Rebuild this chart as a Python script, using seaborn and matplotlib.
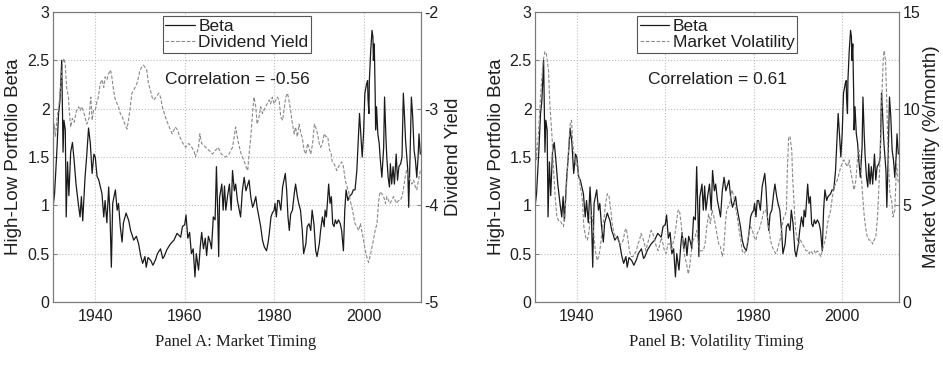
"""plot.py - High-Low portfolio beta vs. market timing / volatility timing signals.

Two panels, each with beta on the left axis and a second signal on a twin axis.
"""

import matplotlib

matplotlib.use("Agg")
import matplotlib.pyplot as plt
import seaborn as sns

# ---------------------------------------------------------------- data
beta_years = [
    1930.6, 1930.9, 1931.4, 1931.8, 1932.1, 1932.5, 1932.8, 1933.0, 1933.3, 1933.5,
    1933.8, 1934.1, 1934.5, 1934.9, 1935.3, 1935.7, 1936.2, 1936.6, 1936.9, 1937.2,
    1937.7, 1938.1, 1938.5, 1938.9, 1939.3, 1939.7, 1940.0, 1940.4, 1940.8, 1941.1,
    1941.5, 1941.9, 1942.2, 1942.6, 1943.0, 1943.3, 1943.6, 1943.9, 1944.5, 1944.9,
    1945.2, 1945.6, 1946.0, 1946.3, 1946.9, 1947.5, 1947.9, 1948.2, 1948.6, 1949.2,
    1949.7, 1950.2, 1950.6, 1951.1, 1951.4, 1951.8, 1952.4, 1952.9, 1953.5, 1953.9,
    1954.6, 1955.1, 1955.4, 1956.0, 1956.8, 1957.6, 1958.3, 1959.1, 1959.5, 1960.0,
    1960.3, 1960.7, 1961.1, 1961.5, 1961.9, 1962.3, 1962.6, 1963.1, 1963.5, 1963.8,
    1964.2, 1964.6, 1964.9, 1965.3, 1965.7, 1966.0, 1966.4, 1966.8, 1967.1, 1967.4,
    1967.6, 1967.8, 1968.3, 1968.6, 1968.9, 1969.2, 1969.6, 1970.0, 1970.4, 1970.7,
    1971.1, 1971.4, 1971.8, 1972.2, 1972.5, 1972.9, 1973.3, 1973.7, 1974.4, 1974.8,
    1975.2, 1975.5, 1975.9, 1976.2, 1976.6, 1977.0, 1977.4, 1977.8, 1978.3, 1978.6,
    1978.9, 1979.3, 1979.6, 1980.0, 1980.2, 1980.5, 1980.8, 1981.1, 1981.5, 1981.9,
    1982.2, 1982.5, 1982.8, 1983.1, 1983.4, 1983.7, 1984.1, 1984.5, 1984.8, 1985.2,
    1985.5, 1985.9, 1986.3, 1986.6, 1987.1, 1987.4, 1987.8, 1988.2, 1988.5, 1988.9,
    1989.3, 1989.6, 1990.1, 1990.4, 1990.8, 1991.2, 1991.4, 1991.7, 1992.2, 1992.5,
    1992.8, 1993.1, 1993.4, 1993.7, 1994.0, 1994.4, 1994.8, 1995.1, 1995.5, 1995.8,
    1996.1, 1996.5, 1996.8, 1997.4, 1997.7, 1998.1, 1998.5, 1998.9, 1999.1, 1999.5,
    1999.7, 2000.0, 2000.3, 2000.7, 2000.9, 2001.0, 2001.2, 2001.3, 2001.6, 2001.9,
    2002.1, 2002.2, 2002.4, 2002.6, 2002.7, 2002.9, 2003.2, 2003.5, 2003.7, 2004.1,
    2004.5, 2004.7, 2005.0, 2005.2, 2005.5, 2005.8, 2006.0, 2006.3, 2006.6, 2006.9,
    2007.3, 2007.6, 2007.9, 2008.3, 2008.6, 2008.9, 2009.1, 2009.4, 2009.9, 2010.1,
    2010.4, 2010.7, 2011.0, 2011.3, 2011.6, 2011.9, 2012.2, 2012.4, 2012.7,
]
beta = [
    1.00, 1.12, 1.55, 1.95, 2.08, 2.50, 1.55, 1.88, 1.78, 0.88,
    1.45, 1.10, 1.55, 1.65, 1.45, 1.22, 1.02, 0.88, 1.09, 0.84,
    1.28, 1.52, 1.80, 1.64, 1.33, 1.53, 1.50, 1.30, 1.26, 1.20,
    1.12, 0.88, 1.05, 0.82, 1.19, 0.90, 0.36, 1.02, 1.16, 0.95,
    1.02, 0.78, 0.62, 0.82, 0.92, 0.84, 0.74, 0.70, 0.64, 0.68,
    0.60, 0.47, 0.40, 0.47, 0.36, 0.46, 0.43, 0.38, 0.44, 0.50,
    0.55, 0.45, 0.47, 0.54, 0.60, 0.64, 0.71, 0.67, 0.78, 0.80,
    0.90, 0.66, 0.72, 0.50, 0.55, 0.26, 0.50, 0.33, 0.58, 0.72,
    0.55, 0.66, 0.48, 0.68, 0.62, 0.55, 0.88, 0.85, 1.40, 0.90,
    0.47, 1.08, 1.22, 0.95, 1.20, 0.95, 1.10, 1.22, 0.95, 1.36,
    1.15, 1.22, 1.05, 0.95, 0.88, 1.15, 1.29, 1.15, 1.26, 1.08,
    0.98, 1.02, 1.09, 0.98, 0.88, 0.78, 0.64, 0.57, 0.53, 0.60,
    0.70, 0.88, 0.92, 0.95, 1.02, 0.88, 1.05, 1.05, 0.95, 1.19,
    1.26, 1.33, 1.16, 0.88, 0.74, 0.91, 0.95, 1.12, 1.22, 1.09,
    1.02, 0.95, 0.74, 0.50, 0.60, 0.78, 0.81, 0.74, 0.95, 0.81,
    0.53, 0.47, 0.60, 0.74, 0.88, 0.78, 0.95, 0.88, 1.22, 1.02,
    1.09, 0.81, 0.78, 0.85, 0.81, 0.85, 0.81, 0.74, 0.53, 0.95,
    1.16, 1.05, 1.09, 1.12, 1.16, 1.16, 1.36, 1.74, 1.95, 1.64,
    1.50, 1.74, 2.16, 2.26, 2.29, 2.10, 1.95, 2.29, 2.60, 2.81,
    2.74, 2.50, 2.67, 2.16, 1.78, 2.02, 1.74, 1.64, 1.50, 1.29,
    1.60, 2.12, 1.71, 1.50, 1.29, 1.19, 1.43, 1.22, 1.40, 1.22,
    1.53, 1.26, 1.40, 1.43, 1.50, 2.16, 1.98, 1.67, 1.36, 0.98,
    1.50, 2.12, 1.91, 1.57, 1.47, 1.29, 1.50, 1.74, 1.53,
]

dy_years = [
    1930.6, 1930.8, 1931.1, 1931.4, 1931.9, 1932.3, 1932.7, 1933.0, 1933.3, 1933.6,
    1934.0, 1934.2, 1934.5, 1934.9, 1935.3, 1935.8, 1936.3, 1936.6, 1937.0, 1937.5,
    1938.1, 1938.6, 1939.0, 1939.3, 1939.6, 1940.0, 1940.4, 1940.7, 1941.1, 1941.5,
    1941.9, 1942.2, 1942.6, 1943.0, 1943.4, 1943.7, 1944.1, 1944.5, 1944.9, 1945.2,
    1945.6, 1946.0, 1946.3, 1946.7, 1947.1, 1947.5, 1947.9, 1948.2, 1948.6, 1948.9,
    1949.3, 1949.7, 1950.0, 1950.4, 1950.8, 1951.1, 1951.5, 1951.9, 1952.4, 1952.7,
    1953.1, 1953.6, 1954.2, 1954.6, 1955.0, 1955.7, 1956.3, 1956.8, 1957.2, 1957.9,
    1958.4, 1958.8, 1959.3, 1959.9, 1960.2, 1960.9, 1961.6, 1962.1, 1962.4, 1963.1,
    1963.4, 1963.8, 1964.7, 1965.4, 1966.2, 1966.9, 1967.5, 1968.2, 1969.2, 1969.9,
    1970.7, 1971.1, 1971.4, 1971.9, 1972.5, 1972.9, 1973.3, 1973.7, 1974.1, 1974.4,
    1974.8, 1975.1, 1975.5, 1975.9, 1976.2, 1976.6, 1977.0, 1977.4, 1978.1, 1978.9,
    1979.2, 1979.6, 1980.0, 1980.4, 1980.7, 1981.1, 1981.5, 1981.9, 1982.2, 1982.6,
    1983.0, 1983.3, 1983.7, 1984.1, 1984.5, 1984.8, 1985.2, 1985.6, 1986.0, 1986.3,
    1986.7, 1987.1, 1987.5, 1987.8, 1988.2, 1988.6, 1989.0, 1989.3, 1989.7, 1990.1,
    1990.4, 1990.8, 1991.2, 1991.6, 1992.0, 1992.4, 1992.7, 1993.0, 1993.4, 1993.7,
    1994.0, 1994.4, 1994.8, 1995.1, 1995.5, 1995.9, 1996.3, 1996.6, 1997.0, 1997.4,
    1997.7, 1998.1, 1998.5, 1998.9, 1999.3, 1999.6, 2000.0, 2000.3, 2000.7, 2001.1,
    2001.5, 2001.9, 2002.2, 2002.6, 2003.0, 2003.4, 2003.7, 2004.1, 2004.5, 2004.9,
    2005.2, 2005.6, 2005.9, 2006.3, 2006.7, 2007.1, 2007.4, 2007.8, 2008.2, 2008.6,
    2008.9, 2009.3, 2009.6, 2010.1, 2010.4, 2010.8, 2011.2, 2011.6, 2011.9, 2012.4,
    2012.7,
]
div_yield = [
    -3.36, -3.16, -3.29, -3.12, -2.95, -2.75, -2.52, -2.48, -2.55, -2.78,
    -2.88, -3.02, -3.19, -3.10, -3.14, -3.02, -2.98, -3.02, -2.98, -3.05,
    -3.16, -3.10, -2.88, -3.12, -3.02, -3.02, -2.92, -2.88, -2.74, -2.70,
    -2.78, -2.67, -2.70, -2.64, -2.60, -2.67, -2.81, -2.91, -2.95, -2.98,
    -3.05, -3.08, -3.12, -3.17, -3.21, -3.10, -2.95, -2.84, -2.81, -2.78,
    -2.74, -2.67, -2.60, -2.57, -2.55, -2.57, -2.60, -2.74, -2.82, -2.88,
    -2.91, -2.88, -2.84, -2.88, -2.98, -3.09, -3.16, -3.22, -3.26, -3.19,
    -3.22, -3.28, -3.33, -3.38, -3.40, -3.36, -3.40, -3.44, -3.50, -3.40,
    -3.26, -3.36, -3.40, -3.43, -3.47, -3.43, -3.40, -3.47, -3.50, -3.47,
    -3.40, -3.28, -3.19, -3.33, -3.45, -3.50, -3.54, -3.60, -3.64, -3.47,
    -3.29, -3.09, -2.88, -2.98, -3.16, -3.09, -2.98, -3.05, -2.98, -2.91,
    -2.95, -2.88, -2.95, -2.91, -2.88, -2.91, -3.09, -3.12, -3.02, -2.88,
    -2.84, -2.91, -3.02, -3.16, -3.26, -3.19, -3.29, -3.16, -3.26, -3.30,
    -3.43, -3.47, -3.36, -3.40, -3.47, -3.36, -3.16, -3.19, -3.26, -3.36,
    -3.40, -3.36, -3.26, -3.29, -3.29, -3.43, -3.45, -3.55, -3.57, -3.60,
    -3.64, -3.60, -3.57, -3.55, -3.60, -3.74, -3.81, -3.84, -3.95, -4.02,
    -4.09, -4.19, -4.22, -4.26, -4.19, -4.26, -4.36, -4.45, -4.53, -4.59,
    -4.52, -4.43, -4.36, -4.26, -4.19, -3.95, -3.86, -3.88, -3.91, -3.98,
    -3.91, -3.95, -3.98, -3.95, -3.91, -3.95, -3.98, -3.95, -3.95, -3.91,
    -3.84, -3.71, -3.64, -3.71, -3.74, -3.78, -3.74, -3.81, -3.84, -3.71,
    -3.64,
]

vol_years = [
    1930.6, 1930.8, 1931.3, 1931.6, 1932.0, 1932.4, 1932.8, 1933.1, 1933.6, 1933.9,
    1934.4, 1934.7, 1935.1, 1935.5, 1935.9, 1936.3, 1936.6, 1937.0, 1937.4, 1937.8,
    1938.2, 1938.5, 1938.8, 1939.1, 1939.5, 1939.9, 1940.2, 1940.4, 1940.8, 1941.2,
    1941.6, 1942.0, 1942.4, 1942.8, 1943.1, 1943.5, 1943.9, 1944.2, 1944.6, 1945.0,
    1945.4, 1945.8, 1946.2, 1946.5, 1946.9, 1947.3, 1947.7, 1948.0, 1948.4, 1948.9,
    1949.4, 1949.8, 1950.1, 1950.5, 1950.9, 1951.2, 1951.5, 1951.9, 1952.3, 1952.7,
    1953.1, 1953.5, 1953.8, 1954.2, 1954.5, 1954.9, 1955.3, 1955.6, 1956.0, 1956.4,
    1956.8, 1957.2, 1957.6, 1958.0, 1958.4, 1958.8, 1959.1, 1959.5, 1959.8, 1960.2,
    1960.6, 1961.0, 1961.4, 1961.7, 1962.1, 1962.5, 1962.9, 1963.2, 1963.6, 1964.0,
    1964.4, 1964.8, 1965.2, 1965.5, 1965.9, 1966.3, 1966.7, 1967.1, 1967.5, 1967.9,
    1968.2, 1968.6, 1969.0, 1969.4, 1969.8, 1970.2, 1970.6, 1971.0, 1971.4, 1971.8,
    1972.1, 1972.5, 1972.9, 1973.2, 1973.6, 1973.9, 1974.6, 1974.8, 1975.1, 1975.5,
    1975.9, 1976.3, 1976.7, 1977.1, 1977.4, 1977.8, 1978.2, 1978.5, 1978.9, 1979.3,
    1979.7, 1980.1, 1980.5, 1980.8, 1981.2, 1981.6, 1982.0, 1982.3, 1982.7, 1983.1,
    1983.5, 1983.8, 1984.2, 1984.6, 1985.0, 1985.3, 1985.7, 1986.1, 1986.4, 1986.8,
    1987.2, 1987.4, 1987.6, 1987.9, 1988.2, 1988.6, 1988.8, 1989.2, 1989.5, 1989.9,
    1990.2, 1990.6, 1991.0, 1991.4, 1991.8, 1992.2, 1992.5, 1992.9, 1993.3, 1993.7,
    1994.0, 1994.4, 1994.8, 1995.2, 1995.5, 1995.9, 1996.3, 1996.7, 1997.0, 1997.4,
    1997.8, 1998.2, 1998.5, 1998.9, 1999.3, 1999.7, 2000.0, 2000.4, 2000.8, 2001.2,
    2001.6, 2001.9, 2002.3, 2002.7, 2003.1, 2003.5, 2003.8, 2004.2, 2004.6, 2005.0,
    2005.4, 2005.7, 2006.1, 2006.5, 2006.9, 2007.2, 2007.6, 2008.0, 2008.4, 2008.7,
    2009.0, 2009.3, 2009.5, 2009.8, 2010.1, 2010.4, 2010.8, 2011.2, 2011.5, 2011.9,
    2012.3, 2012.7,
]
market_vol = [
    9.90, 7.35, 8.55, 9.90, 11.3, 12.5, 12.95, 12.85, 12.0, 10.25,
    8.55, 7.00, 5.45, 4.40, 4.20, 4.20, 4.05, 3.90, 4.75, 6.45,
    8.20, 9.20, 9.40, 8.20, 7.35, 7.00, 7.15, 6.65, 5.95, 5.45,
    3.90, 3.35, 3.20, 3.70, 4.55, 4.40, 3.35, 2.65, 2.15, 2.35,
    3.00, 3.90, 4.40, 5.10, 5.60, 5.45, 4.75, 4.05, 3.55, 3.35,
    3.20, 3.00, 3.00, 3.20, 3.70, 3.80, 3.35, 2.65, 2.35, 2.35,
    2.50, 2.65, 3.00, 3.20, 3.55, 3.35, 3.00, 2.65, 3.00, 3.35,
    3.70, 3.55, 3.20, 2.85, 2.65, 3.00, 3.35, 3.00, 2.65, 2.50,
    3.00, 3.00, 2.65, 3.00, 3.35, 4.05, 4.75, 4.75, 4.05, 3.00,
    2.35, 2.00, 1.45, 1.80, 2.65, 3.20, 3.35, 3.70, 3.00, 2.65,
    2.65, 2.65, 3.00, 3.90, 4.55, 4.05, 4.75, 4.40, 3.90, 3.35,
    3.00, 2.85, 2.35, 2.65, 4.05, 4.75, 5.10, 5.45, 5.80, 5.45,
    4.90, 4.40, 3.70, 3.20, 2.65, 2.50, 2.65, 3.00, 3.55, 3.90,
    3.70, 3.35, 3.20, 3.55, 3.70, 4.05, 4.40, 4.75, 4.75, 4.40,
    3.70, 3.20, 2.85, 2.65, 2.50, 2.65, 3.00, 3.35, 3.90, 4.40,
    4.55, 4.75, 6.80, 8.55, 8.55, 7.85, 6.45, 4.75, 3.70, 3.20,
    3.00, 3.20, 3.00, 2.85, 2.65, 2.65, 2.50, 2.65, 2.50, 2.65,
    2.50, 2.65, 2.50, 2.35, 2.65, 3.00, 3.35, 4.05, 4.40, 4.75,
    5.45, 5.95, 6.10, 6.30, 6.65, 7.00, 7.15, 7.35, 7.15, 7.00,
    7.35, 6.80, 6.30, 5.80, 6.30, 7.50, 7.85, 7.00, 5.60, 4.40,
    3.70, 3.35, 3.20, 3.20, 3.00, 3.20, 3.35, 4.40, 6.45, 8.20,
    10.8, 12.65, 13.0, 12.5, 10.25, 7.50, 5.60, 5.25, 4.40, 4.75,
    7.15, 6.10,
]

beta_ticks = [0, 0.5, 1, 1.5, 2, 2.5, 3]
beta_ticklabels = ["0", "0.5", "1", "1.5", "2", "2.5", "3"]
year_ticks = [1940, 1960, 1980, 2000]
dy_ticks = [-5, -4, -3, -2]
vol_ticks = [0, 5, 10, 15]

SANS = "Liberation Sans"
SERIF = "Liberation Serif"
INK = "#1f1f1f"
FRAME = "#7a7a7a"


def draw_panel(ax, sig_years, sig_vals, sig_label, sig_ylabel, sig_ylim,
               sig_ticks, corr_text, title, title_x):
    """Beta on the left axis, a second signal (dashed) on a twin axis."""
    twin = ax.twinx()

    sns.lineplot(x=beta_years, y=beta, ax=ax, color="#1a1a1a", lw=0.9,
                 legend=False)
    sns.lineplot(x=sig_years, y=sig_vals, ax=twin, color="#8a8a8a", lw=0.8,
                 ls=(0, (3.2, 1.6)), legend=False)

    ax.set_xlim(1930.55, 2012.85)
    ax.set_ylim(0, 3)
    ax.set_xticks(year_ticks)
    ax.set_xticklabels([str(y) for y in year_ticks])
    ax.set_yticks(beta_ticks)
    ax.set_yticklabels(beta_ticklabels)
    ax.set_xlabel("")
    ax.set_ylabel("High-Low Portfolio Beta", fontsize=13.5, family=SANS,
                  color=INK)
    ax.yaxis.set_label_coords(-0.083, 0.5)
    ax.grid(True, ls=":", lw=0.8, color="#bdbdbd")

    twin.set_ylim(*sig_ylim)
    twin.set_yticks(sig_ticks)
    twin.set_yticklabels([str(t) for t in sig_ticks])
    twin.set_ylabel(sig_ylabel, fontsize=13.5, family=SANS, color=INK)
    twin.yaxis.set_label_coords(1.066, 0.5)
    twin.grid(False)

    for a in (ax, twin):
        a.tick_params(axis="y", direction="in", length=3, width=0.7,
                      color=FRAME, labelsize=11.5, labelcolor=INK, pad=2.5)
        a.tick_params(axis="x", direction="in", length=3, width=0.7,
                      color=FRAME, labelsize=11.5, labelcolor=INK, pad=5)
        for s in a.spines.values():
            s.set_visible(True)
            s.set_color(FRAME)
            s.set_linewidth(0.8)
        for lbl in a.get_xticklabels() + a.get_yticklabels():
            lbl.set_family(SANS)

    leg = twin.legend(handles=[ax.lines[0], twin.lines[0]],
                      labels=["Beta", sig_label], loc="upper center",
                      prop={"family": SANS, "size": 12.5}, frameon=True,
                      fancybox=False, framealpha=1, edgecolor="#555555",
                      borderaxespad=0.25, borderpad=0.15, labelspacing=0.05,
                      handlelength=1.7, handletextpad=0.2)
    leg.get_frame().set_linewidth(0.8)
    for t in leg.get_texts():
        t.set_color(INK)

    twin.text(0.5, 0.766, corr_text, transform=twin.transAxes, ha="center",
              va="center", fontsize=12.5, family=SANS, color=INK)

    fig = ax.figure
    fig.text(title_x, 1 - 342 / 366, title, ha="center", va="center",
             fontsize=12, family=SERIF, color=INK)


def main():
    sns.set_theme(style="white")
    plt.rcParams["font.family"] = [SANS, "DejaVu Sans"]
    plt.rcParams["axes.unicode_minus"] = False

    fig = plt.figure(figsize=(9.43, 3.66), dpi=100)
    ax_a = fig.add_axes([53 / 943, 64 / 366, 368 / 943, 290 / 366])
    ax_b = fig.add_axes([535 / 943, 64 / 366, 364 / 943, 290 / 366])

    draw_panel(ax_a, dy_years, div_yield, "Dividend Yield", "Dividend Yield",
               (-5, -2), dy_ticks, "Correlation = -0.56",
               "Panel A: Market Timing", 236 / 943)
    draw_panel(ax_b, vol_years, market_vol, "Market Volatility",
               "Market Volatility (%/month)", (0, 15), vol_ticks,
               "Correlation = 0.61", "Panel B: Volatility Timing", 716 / 943)

    fig.savefig("out.png", dpi=100, facecolor="white")
    plt.close(fig)


if __name__ == "__main__":
    main()
